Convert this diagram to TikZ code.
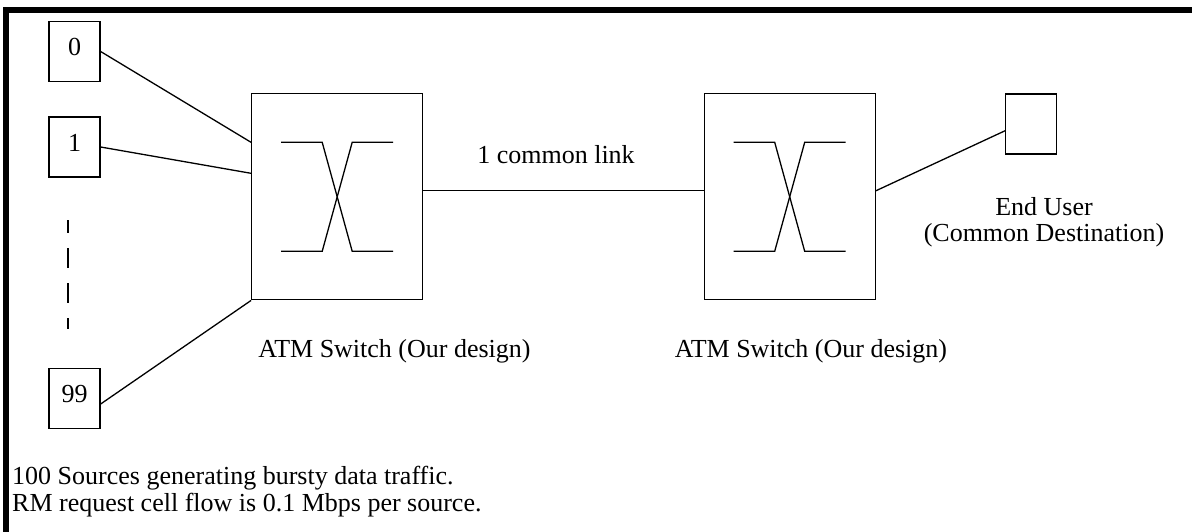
\documentclass[tikz,border=0pt]{standalone}
\usepackage{fontspec}
\setmainfont{Liberation Serif}
\tikzset{
  wire/.style={line width=1.3pt},
  srcbox/.style={draw, line width=1.3pt, minimum width=51pt, minimum height=60pt,
    inner sep=0pt, text height=18pt, text depth=10pt},
  userbox/.style={draw, line width=1.3pt, minimum width=51pt, minimum height=60pt, inner sep=0pt},
  switchbox/.style={draw, line width=1.3pt, minimum width=171pt, minimum height=206pt, inner sep=0pt,
    path picture={
      \draw[line width=1.3pt] ([shift={(-56pt,54.5pt)}]path picture bounding box.center)
        -- ++(41pt,0pt) -- ++(30pt,-109pt) -- ++(41pt,0pt);
      \draw[line width=1.3pt] ([shift={(-56pt,-54.5pt)}]path picture bounding box.center)
        -- ++(41pt,0pt) -- ++(30pt,109pt) -- ++(41pt,0pt);
    }},
  lbl/.style={inner sep=0pt, anchor=base},
  frameline/.style={line width=6.3pt},
}
\begin{document}
\begin{tikzpicture}[x=1pt, y=-1pt, font=\fontsize{26pt}{26.5pt}\selectfont]
\useasboundingbox (0,0) rectangle (1192,531);

% outer frame (top and left edges)
\draw[frameline] (6,545) -- (6,10.3) -- (1210,10.3);

% sources
\node[srcbox] (src0) at (74.5,51.5) {0};
\node[srcbox] (src1) at (74.5,147) {1};
\node[srcbox] (src99) at (74.5,398.5) {99};
\draw[wire, dash pattern=on 20pt off 15pt, dash phase=7pt] (68,220) -- (68,329);

% switches and destination
\node[switchbox] (sw1) at (337.2,196.8) {};
\node[switchbox] (sw2) at (789.7,196.8) {};
\node[userbox] (user) at (1031.3,124) {};

% links
\draw[wire] (src0.east) -- ([yshift=54.5pt]sw1.west);
\draw[wire] (src1.east) -- ([yshift=23.5pt]sw1.west);
\draw[wire] ([yshift=-5.5pt]src99.east) -- (sw1.south west);
\draw[wire] ([yshift=6pt]sw1.east) -- ([yshift=6pt]sw2.west);
\draw[wire] ([yshift=6pt]sw2.east) -- ([yshift=-6.7pt]user.west);

% labels (multi-line nodes sit on the baseline of their last line)
\node[lbl] (sw1lbl) at (394.5,357) {ATM Switch (Our design)};
\node[lbl] (sw2lbl) at (811,357) {ATM Switch (Our design)};
\node[lbl] (linklbl) at (556,163) {1 common link};
\node[lbl, align=center, font=\fontsize{26pt}{26pt}\selectfont] (userlbl) at (1044,241)
  {End User\\(Common Destination)};
\node[lbl, anchor=base west, align=left, font=\fontsize{26pt}{27pt}\selectfont] (note) at (12,511)
  {100 Sources generating bursty data traffic.\\RM request cell flow is 0.1 Mbps per source.};
\end{tikzpicture}
\end{document}
